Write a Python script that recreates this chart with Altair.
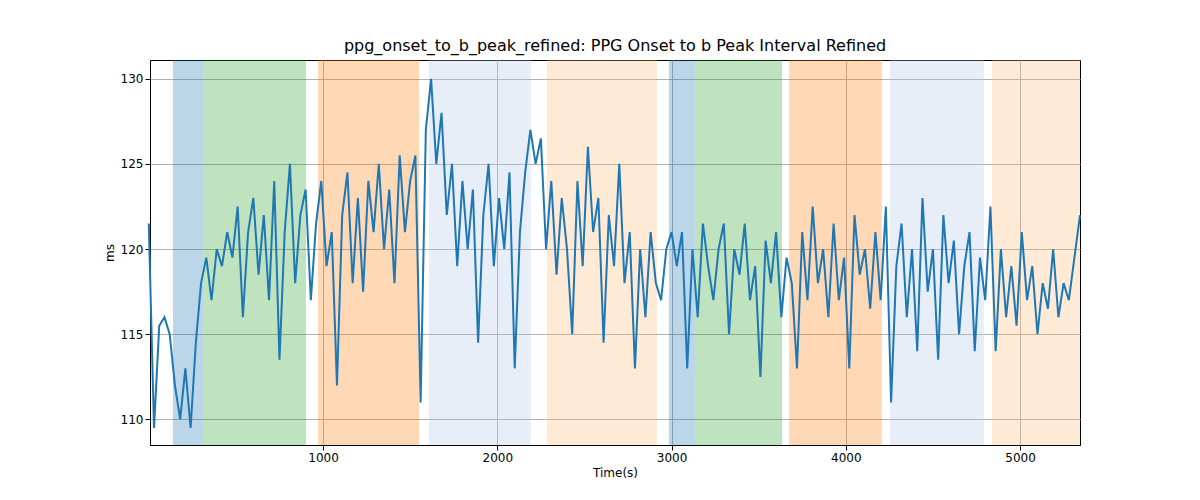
import pandas as pd
import altair as alt

# shaded phases (start, end, colour)
band_start = [139, 311, 971, 1608, 2285, 2985, 3134, 3674, 4253, 4839]
band_end = [311, 902, 1551, 2193, 2916, 3134, 3634, 4207, 4793, 5344]
band_color = ["#1f77b4", "#2ca02c", "#ff7f0e", "#aec7e8", "#ffbb78",
              "#1f77b4", "#2ca02c", "#ff7f0e", "#aec7e8", "#ffbb78"]

t_step = 30
values = [
    121.5, 109.5, 115.5, 116, 115, 112, 110, 113, 109.5, 114.5,
    118, 119.5, 117, 120, 119, 121, 119.5, 122.5, 116, 121,
    123, 118.5, 122, 117, 124, 113.5, 121, 125, 118, 122,
    123.5, 117, 121.5, 124, 119, 121, 112, 122, 124.5, 118,
    123, 117.5, 124, 121, 125, 120, 123.5, 118, 125.5, 121,
    124, 125.5, 111, 127, 130, 125, 128, 122, 125, 119,
    124, 120, 123.5, 114.5, 122, 125, 119, 123, 120, 124.5,
    113, 121, 124.5, 127, 125, 126.5, 120, 124, 118.5, 123,
    120, 115, 124, 119, 126, 121, 123, 114.5, 122, 119,
    125, 118, 121, 113, 120, 116, 121, 118, 117, 120,
    121, 119, 121, 113, 120, 116, 121.5, 119, 117, 120,
    121.5, 115, 120, 118.5, 121.5, 117, 119, 112.5, 120.5, 118,
    121, 116, 119.5, 118, 113, 121, 117, 122.5, 118, 120,
    116, 121.5, 117, 119.5, 113, 122, 118.5, 120, 116.5, 121,
    117, 122.5, 111, 119, 121.5, 116, 120, 114, 123, 117.5,
    120, 113.5, 122, 118, 120.5, 115, 119, 121, 114, 119.5,
    117, 122.5, 114, 120, 116, 119, 115.5, 121, 117, 119,
    115, 118, 116.5, 120, 116, 118, 117, 122,
]

times = [i * t_step for i in range(len(values))]
times[-1] = 5344
line_df = pd.DataFrame({"t": times, "v": values})
band_df = pd.DataFrame({"x1": band_start, "x2": band_end, "c": band_color})

xs = alt.Scale(domain=[7, 5344], nice=False, zero=False)
ys = alt.Scale(domain=[108.5, 131.1], nice=False, zero=False)

bands = alt.Chart(band_df).mark_rect(opacity=0.3).encode(
    x=alt.X("x1:Q", scale=xs),
    x2="x2:Q",
    color=alt.Color("c:N", scale=None),
)

line = alt.Chart(line_df).mark_line(color="#1f77b4", strokeWidth=2).encode(
    x=alt.X("t:Q", scale=xs, title="Time(s)",
            axis=alt.Axis(values=[1000, 2000, 3000, 4000, 5000], format="d", grid=True)),
    y=alt.Y("v:Q", scale=ys, title="ms",
            axis=alt.Axis(values=[110, 115, 120, 125, 130], grid=True)),
)

chart = alt.layer(bands, line).properties(
    width=930,
    height=385,
    autosize=alt.AutoSizeParams(type="none"),
    padding={"left": 142, "top": 52, "right": 112, "bottom": 47},
    title=alt.Title("ppg_onset_to_b_peak_refined: PPG Onset to b Peak Interval Refined",
                    fontSize=16, fontWeight="normal", font="DejaVu Sans", offset=6),
).configure_axis(
    gridColor="#b0b0b0", gridWidth=1, domainColor="black", tickColor="black",
    labelFont="DejaVu Sans", titleFont="DejaVu Sans", labelFontSize=12,
    titleFontSize=12, titleFontWeight="normal", labelColor="black",
).configure_view(stroke="black")

chart.save("out.html", embed_options={"renderer": "svg", "actions": False})
